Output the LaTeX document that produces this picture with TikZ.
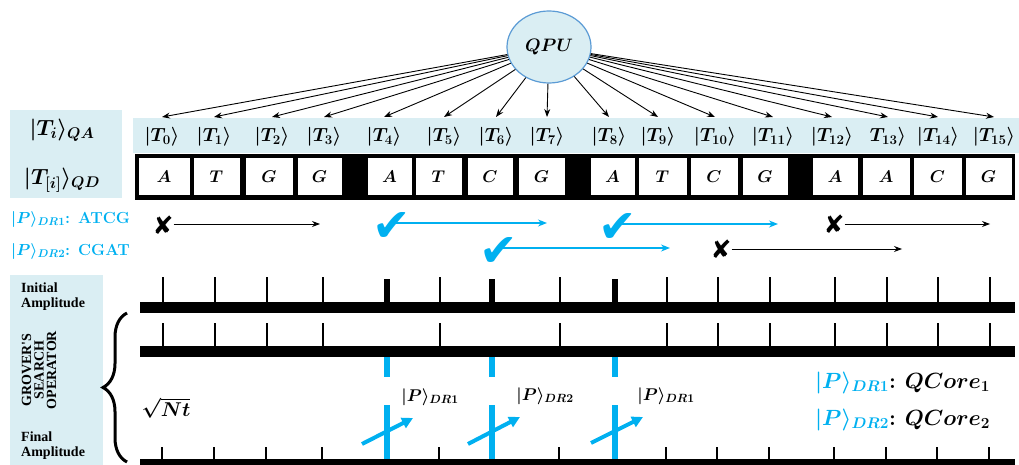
\documentclass[tikz,border=0pt]{standalone}
\usepackage{fix-cm}
\usepackage{amsmath}
\usepackage{fontspec}
\newfontfamily\symfont{DejaVu Sans}
\newfontfamily\tnrfont{Liberation Serif}
\usetikzlibrary{arrows.meta,shapes.geometric,decorations.pathreplacing}
\definecolor{paleblue}{HTML}{DAEEF3}
\definecolor{dnablue}{HTML}{00B0F0}
\definecolor{rimblue}{HTML}{5B9BD5}
\newcommand\fs[1]{\fontsize{#1}{#1}\selectfont}
\tikzset{
  fan/.style={-{Stealth[length=8pt,width=6pt]}, line width=0.9pt},
  tlabel/.style={anchor=north, inner xsep=0pt, inner ysep=10pt, font={\fs{19}\boldmath}},
  cellbox/.style={draw=black, fill=white, line width=1pt},
  letter/.style={inner sep=0pt, font={\fs{17}\boldmath}},
  xmark/.style={font={\symfont\fs{25}}, inner sep=0pt},
  vmark/.style={font={\symfont\fs{46}}, text=dnablue, inner sep=0pt},
  hitline/.style={dnablue, line width=1.3pt, -{Stealth[length=9pt,width=7pt]}},
  missline/.style={black, line width=1pt, -{Stealth[length=8pt,width=6pt]}},
  tickthin/.style={line width=1.2pt},
  tickbold/.style={line width=6pt},
  hitbar/.style={dnablue, line width=6pt},
  shot/.style={dnablue, line width=4pt, -{Triangle[length=11pt,width=11pt]}},
  sidetext/.style={font={\tnrfont\bfseries\fs{14}}, align=left, inner sep=0pt},
}
\begin{document}
\begin{tikzpicture}[x=1pt,y=-1pt]
\useasboundingbox (0,0) rectangle (1019,465);

% ---- address register and data register ----
\fill[paleblue] (10,110) rectangle (122,198);
\fill[paleblue] (133,118) rectangle (1019,153);
\node[font={\fs{22}\boldmath}] (qa) at (62,130) {$|T_i\rangle_{QA}$};
\node[font={\fs{22}\boldmath}] (qd) at (62,180) {$|T_{[i]}\rangle_{QD}$};

\node[ellipse, draw=rimblue, fill=paleblue, line width=1.2pt,
      minimum width=84pt, minimum height=72pt, inner sep=0pt,
      font={\fs{18}\boldmath}] (qpu) at (549,47) {$QPU$};

\foreach \x [count=\i from 0] in {162,214,272,324,384,444,496,547,609,658,715,773,832,888,938,994} {
  \node[tlabel] (t\i) at (\x,117)
    {\ifnum\i=13 $T_{13}\rangle$\else $|T_{\i}\rangle$\fi};
  \draw[fan] (qpu) -- (t\i.north);
}

% data cells
\fill[black] (135,154) rectangle (1015,200);
\foreach \l/\r/\s [count=\i from 0] in {
  138/190/A, 193/240/T, 245/293/G, 297/342/G,
  367/412/A, 415/462/T, 467/513/C, 518/565/G,
  590/635/A, 638/687/T, 690/738/C, 742/788/G,
  812/858/A, 862/910/A, 913/962/C, 965/1012/G} {
  \draw[cellbox] (\l,158) rectangle (\r,195);
  \node[letter] (c\i) at ({(\l+\r)/2},177) {$\s$};
}

% ---- pattern matching rows ----
\node[anchor=west, inner sep=0pt, text=dnablue, font={\fs{16}\boldmath}] (dr1) at (11,219)
  {$|P\rangle_{DR1}$\textbf{: ATCG}};
\node[anchor=west, inner sep=0pt, text=dnablue, font={\fs{16}\boldmath}] (dr2) at (11,251)
  {$|P\rangle_{DR2}$\textbf{: CGAT}};

\node[xmark] (m0) at (163,225) {✘};
\coordinate (e0) at (320,224);
\draw[missline] (m0.east |- e0) -- (e0);

\node[vmark] (h4) at (392,227) {✔};
\coordinate (e4) at (547,223);
\draw[hitline] ([xshift=3pt]h4.center |- e4) -- (e4);

\node[vmark] (h8) at (618,228) {✔};
\coordinate (e8) at (778,224);
\draw[hitline] ([xshift=3pt]h8.center |- e8) -- (e8);

\node[xmark] (m12) at (834,224) {✘};
\coordinate (e12) at (990,224);
\draw[missline] (m12.east |- e12) -- (e12);

\node[vmark] (h6) at (499,252) {✔};
\coordinate (e6) at (670,248);
\draw[hitline] ([xshift=3pt]h6.center |- e6) -- (e6);

\node[xmark] (m10) at (721,249) {✘};
\coordinate (e10) at (902,249);
\draw[missline] (m10.east |- e10) -- (e10);

% ---- amplitude diagram ----
\fill[paleblue] (10,275) rectangle (103,465);
\node[sidetext, anchor=west] (init) at (21,297) {Initial\\[1pt]Amplitude};
\node[sidetext, anchor=west] (fin) at (21,446) {Final\\[1pt]Amplitude};
\node[font={\tnrfont\bfseries\fs{14}}, align=center, inner sep=0pt, rotate=90] (grover)
  at (39,370) {GROVER'S\\[-1.5pt]SEARCH\\[-1.5pt]OPERATOR};

\draw[decorate, decoration={brace, amplitude=24pt}, line width=3pt] (127,462) -- (127,313);

\fill[black] (140,302) rectangle (1015,313);
\fill[black] (140,346) rectangle (1015,357);
\fill[black] (140,459) rectangle (1015,465);

\foreach \x in {163,215,267,323,440,560,667,718,770,835,887,938,990} {
  \draw[tickthin] (\x,277) -- (\x,302);
  \draw[tickthin] (\x,323) -- (\x,346);
  \draw[tickthin] (\x-1,447) -- (\x-1,459);
}
\foreach \x in {387,492,615} {
  \draw[tickbold] (\x,279) -- (\x,302);
  \draw[hitbar] (\x,357) -- (\x,377);
  \draw[hitbar] (\x,405) -- (\x,459);
}

\coordinate (s1) at (362,444); \coordinate (s1t) at (413,418);
\coordinate (s2) at (468,444); \coordinate (s2t) at (520,417);
\coordinate (s3) at (591,443); \coordinate (s3t) at (643,417);
\draw[shot] (s1) -- (s1t);
\draw[shot] (s2) -- (s2t);
\draw[shot] (s3) -- (s3t);

\node[font={\fs{17}\boldmath}, inner sep=0pt] (p1) at (430,397) {$|P\rangle_{DR1}$};
\node[font={\fs{17}\boldmath}, inner sep=0pt] (p2) at (545,396) {$|P\rangle_{DR2}$};
\node[font={\fs{17}\boldmath}, inner sep=0pt] (p3) at (666,396) {$|P\rangle_{DR1}$};

\node[font={\fs{20}\boldmath}, inner sep=0pt] (nt) at (166,408) {$\sqrt{Nt}$};

\node[anchor=west, inner sep=0pt, font={\fs{22}\boldmath}] (lg1) at (815,383)
  {\textcolor{dnablue}{$|P\rangle_{DR1}$}\textbf{:} $QCore_1$};
\node[anchor=west, inner sep=0pt, font={\fs{22}\boldmath}] (lg2) at (815,420)
  {\textcolor{dnablue}{$|P\rangle_{DR2}$}\textbf{:} $QCore_2$};
\end{tikzpicture}
\end{document}
